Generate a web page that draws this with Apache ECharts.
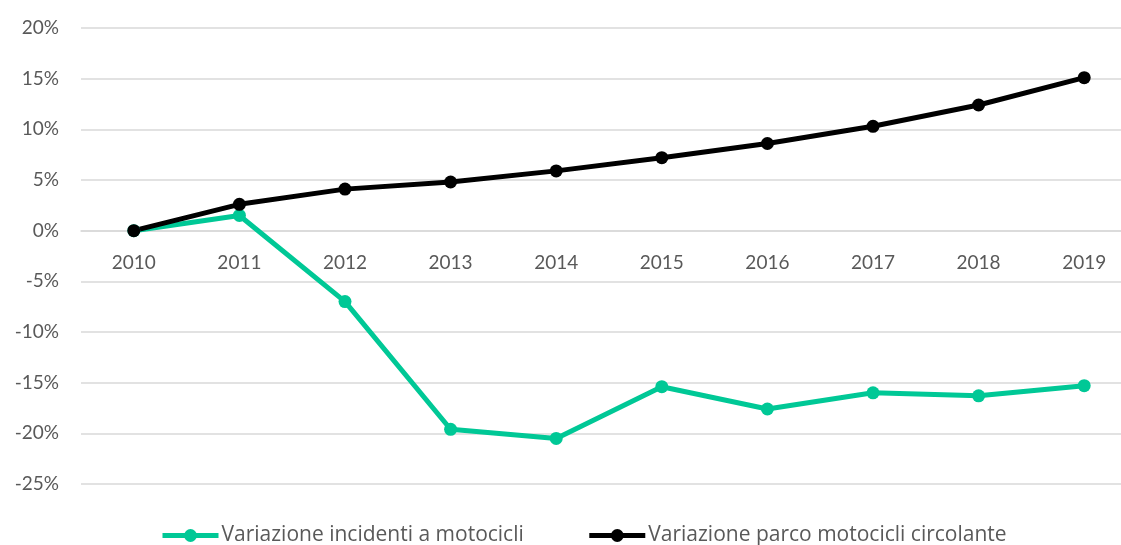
<!DOCTYPE html>
<html>
<head>
<meta charset="utf-8">
<script src="https://cdn.jsdelivr.net/npm/echarts@6/dist/echarts.min.js"></script>
<style>
  html, body { margin: 0; padding: 0; background: #fff; overflow: hidden; }
  /* the plot runs past the right edge in the original, so the box is wider than the window */
  #chart { width: 1137px; height: 545px; }
</style>
</head>
<body>
<div id="chart"></div>
<script>
  // anni
  var years = ['2010', '2011', '2012', '2013', '2014', '2015', '2016', '2017', '2018', '2019'];
  // variazione % rispetto al 2010
  var incidenti = [0, 1.5, -7.0, -19.6, -20.5, -15.4, -17.6, -16.0, -16.3, -15.3];
  var parco = [0, 2.6, 4.1, 4.8, 5.9, 7.2, 8.6, 10.3, 12.4, 15.1];

  var myChart = echarts.init(document.getElementById('chart'));
  var font = 'Lato, "Open Sans", sans-serif';

  myChart.setOption({
    animation: false,
    grid: { left: 81, right: 0, top: 28, bottom: 61 },
    legend: {
      top: 520,
      left: 155,
      itemGap: 63,
      itemWidth: 56,
      itemHeight: 16,
      lineStyle: { width: 5 },
      textStyle: { fontFamily: '"Open Sans", sans-serif', fontSize: 21, color: '#595959', padding: [0, 0, 0, -2] },
      data: ['Variazione incidenti a motocicli', 'Variazione parco motocicli circolante']
    },
    xAxis: {
      type: 'category',
      data: years,
      offset: -253,
      axisLine: { onZero: false, lineStyle: { color: '#d9d9d9', width: 1.5 } },
      axisTick: { show: false },
      axisLabel: { fontFamily: font, fontSize: 19, color: '#595959', margin: 22 }
    },
    yAxis: {
      type: 'value',
      min: -25,
      max: 20,
      interval: 5,
      axisLine: { show: false },
      axisTick: { show: false },
      splitLine: { lineStyle: { color: '#d9d9d9', width: 1.5 } },
      axisLabel: {
        fontFamily: font, fontSize: 19, color: '#595959', margin: 22,
        formatter: function (v) { return v + '%'; }
      }
    },
    series: [
      {
        name: 'Variazione incidenti a motocicli',
        type: 'line',
        data: incidenti,
        symbol: 'circle',
        symbolSize: 13,
        lineStyle: { color: '#00c896', width: 5 },
        itemStyle: { color: '#00c896' }
      },
      {
        name: 'Variazione parco motocicli circolante',
        type: 'line',
        data: parco,
        symbol: 'circle',
        symbolSize: 13,
        lineStyle: { color: '#000', width: 5 },
        itemStyle: { color: '#000' }
      }
    ]
  });
</script>
</body>
</html>
